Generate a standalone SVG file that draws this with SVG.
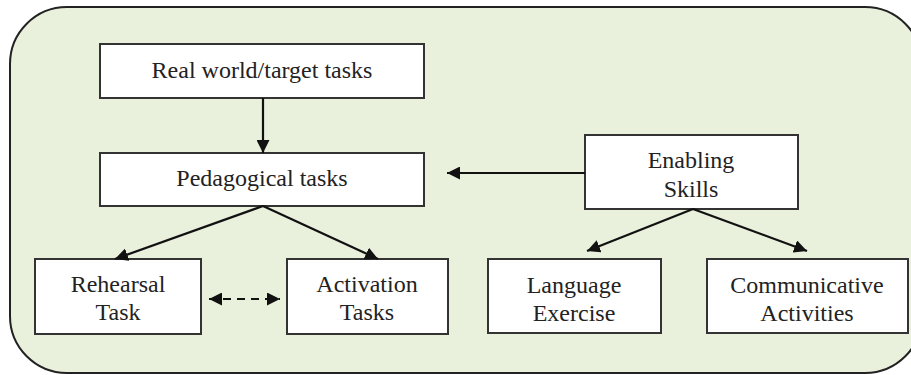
<svg xmlns="http://www.w3.org/2000/svg" width="911" height="375" viewBox="0 0 911 375">
  <style>
    .frame { fill: #e9f0dc; stroke: #222; stroke-width: 2; }
    .box { fill: #fff; stroke: #333; stroke-width: 2; }
    .label { font-size: 24px; fill: #222; text-anchor: middle; }
    .link { fill: none; stroke: #111; stroke-width: 2.2; }
    .dashed { stroke-dasharray: 8 6; }
  </style>
  <defs>
    <marker id="head" viewBox="0 0 12 12" refX="12" refY="6" markerWidth="13" markerHeight="13" markerUnits="userSpaceOnUse" orient="auto-start-reverse">
      <path d="M0,0 L12,6 L0,12 Z" fill="#111"/>
    </marker>
  </defs>

  <!-- background panel -->
  <rect class="frame" x="10" y="7" width="912" height="366" rx="57" ry="57"/>

  <g font-family="Liberation Serif, DejaVu Serif, serif">
    <g id="real-world">
      <rect class="box" x="100" y="44" width="324" height="54"/>
      <text class="label" x="262" y="78">Real world/target tasks</text>
    </g>
    <g id="pedagogical">
      <rect class="box" x="100" y="153" width="324" height="53"/>
      <text class="label" x="262" y="186">Pedagogical tasks</text>
    </g>
    <g id="rehearsal">
      <rect class="box" x="35" y="259" width="166" height="75"/>
      <text class="label" x="118" y="292">Rehearsal</text>
      <text class="label" x="118" y="320">Task</text>
    </g>
    <g id="activation">
      <rect class="box" x="287" y="259" width="161" height="75"/>
      <text class="label" x="367" y="292">Activation</text>
      <text class="label" x="367" y="320">Tasks</text>
    </g>
    <g id="enabling">
      <rect class="box" x="585" y="135" width="213" height="74"/>
      <text class="label" x="691" y="168">Enabling</text>
      <text class="label" x="691" y="197">Skills</text>
    </g>
    <g id="language">
      <rect class="box" x="488" y="259" width="173" height="74"/>
      <text class="label" x="574" y="293">Language</text>
      <text class="label" x="574" y="321">Exercise</text>
    </g>
    <g id="communicative">
      <rect class="box" x="707" y="259" width="201" height="74"/>
      <text class="label" x="807" y="293">Communicative</text>
      <text class="label" x="807" y="321">Activities</text>
    </g>
  </g>

  <g id="connectors">
    <line class="link" x1="263" y1="98" x2="263" y2="153" marker-end="url(#head)"/>
    <line class="link" x1="263" y1="206" x2="115" y2="259" marker-end="url(#head)"/>
    <line class="link" x1="263" y1="206" x2="378" y2="259" marker-end="url(#head)"/>
    <line class="link dashed" x1="209" y1="299" x2="280" y2="299" marker-start="url(#head)" marker-end="url(#head)"/>
    <line class="link" x1="585" y1="173" x2="447" y2="173" marker-end="url(#head)"/>
    <line class="link" x1="693" y1="209" x2="587" y2="251" marker-end="url(#head)"/>
    <line class="link" x1="693" y1="209" x2="807" y2="251" marker-end="url(#head)"/>
  </g>
</svg>
